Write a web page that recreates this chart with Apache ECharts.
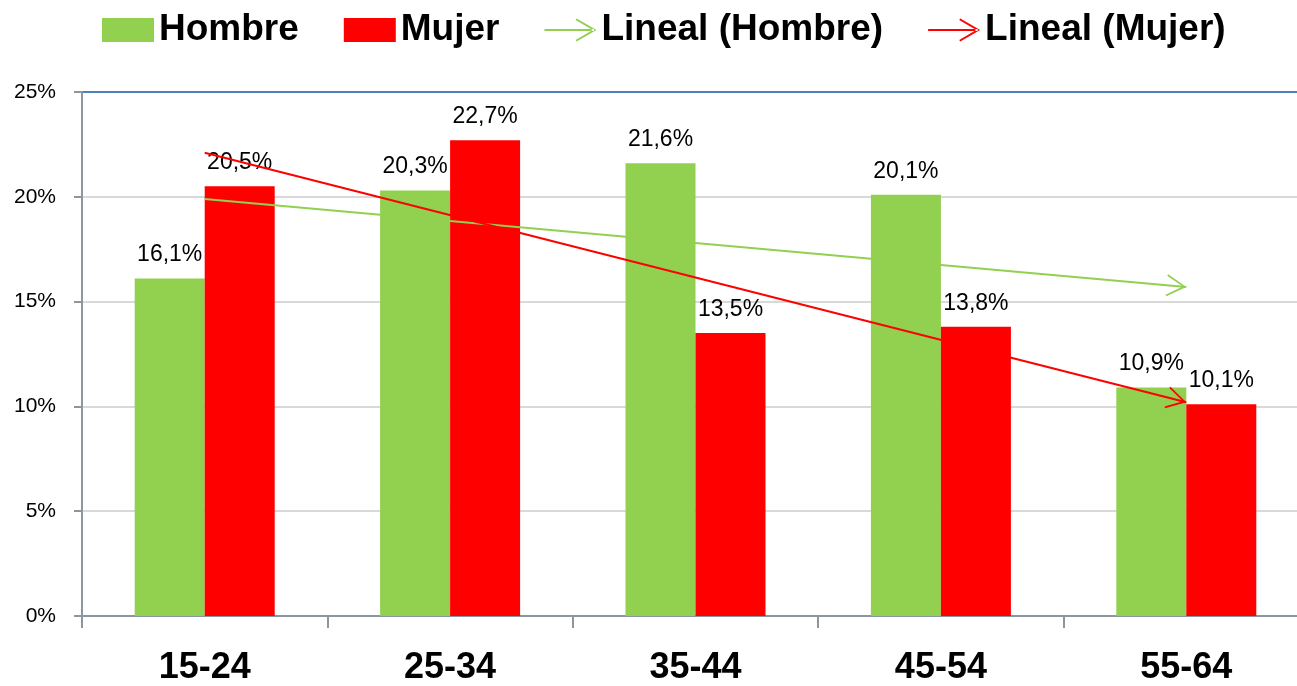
<!DOCTYPE html>
<html>
<head>
<meta charset="utf-8">
<script src="https://cdn.jsdelivr.net/npm/echarts@6/dist/echarts.min.js"></script>
<style>
  html, body { margin: 0; padding: 0; background: #fff; }
  #chart { width: 1297px; height: 686px; }
</style>
</head>
<body>
<div id="chart"></div>
<script>
// grupos de edad
const categories = ['15-24', '25-34', '35-44', '45-54', '55-64'];
// porcentajes por sexo
const hombre = [16.1, 20.3, 21.6, 20.1, 10.9];
const mujer = [20.5, 22.7, 13.5, 13.8, 10.1];
// tendencia lineal: valor en el primer y el ultimo grupo
const trendHombre = [19.9, 15.7];
const trendMujer = [22.1, 10.2];
// eje y
const yTicks = [0, 5, 10, 15, 20, 25];

const GREEN = '#92d050';
const RED = '#ff0000';
const FONT = '"Liberation Sans", Arial, sans-serif';

// flecha abierta, punta en el centro del simbolo
const arrowPath = 'path://M0,0 L10.5,19 L9.1,19.9 L0,3.5 L-9.1,19.9 L-10.5,19 Z M0,-20 L0.05,-20 L0,-19.95 Z';
// icono de leyenda: linea + flecha
const legendArrow = 'path://M0,11 L50,11 L50,13 L0,13 Z M52.5,12 L32.5,0.3 L31.4,2 L48.6,12 L31.4,22 L32.5,23.7 Z M0,0 L0.05,0 L0,0.05 Z M0,24 L0.05,24 L0,23.95 Z';

const fmt = v => v.toFixed(1).replace('.', ',') + '%';

const chart = echarts.init(document.getElementById('chart'));

function trendSeries (name, color, ends) {
    return {
        name: name,
        type: 'line',
        z: 5,
        data: [],
        itemStyle: { color: color },
        lineStyle: { color: color },
        markLine: {
            silent: true,
            animation: false,
            symbol: ['none', arrowPath],
            symbolSize: [22, 40],
            lineStyle: { color: color, width: 2, type: 'solid' },
            label: { show: false },
            emphasis: { disabled: true },
            data: [[
                { coord: [categories[0], ends[0]] },
                { coord: [categories[categories.length - 1], ends[1]] }
            ]]
        }
    };
}

const option = {
    animation: false,
    textStyle: { fontFamily: FONT },
    legend: {
        left: 102,
        top: 10,
        padding: 0,
        itemWidth: 52,
        itemHeight: 24,
        itemGap: 45,
        textStyle: { fontSize: 37, fontWeight: 'bold', color: '#000', fontFamily: FONT, lineHeight: 40 },
        data: [
            { name: 'Hombre', icon: 'rect' },
            { name: 'Mujer', icon: 'rect' },
            { name: 'Lineal (Hombre)', icon: legendArrow, itemStyle: { color: GREEN, borderWidth: 0 } },
            { name: 'Lineal (Mujer)', icon: legendArrow, itemStyle: { color: RED, borderWidth: 0 } }
        ]
    },
    grid: {
        left: 82,
        width: 1227,
        top: 92,
        bottom: 70,
        outerBoundsMode: 'none'
    },
    xAxis: {
        type: 'category',
        data: categories,
        axisLine: { lineStyle: { color: '#8c96a0', width: 2 } },
        axisTick: { show: true, interval: 0, alignWithLabel: false, length: 12, lineStyle: { color: '#8c96a0', width: 2 } },
        axisLabel: { fontSize: 36, fontWeight: 'bold', color: '#000', margin: 34, fontFamily: FONT }
    },
    yAxis: {
        type: 'value',
        min: yTicks[0],
        max: yTicks[yTicks.length - 1],
        interval: 5,
        axisLine: { show: true, lineStyle: { color: '#8c96a0', width: 2 } },
        axisTick: { show: true, length: 8, lineStyle: { color: '#8c96a0', width: 2 } },
        axisLabel: { fontSize: 21, color: '#000', margin: 26, formatter: '{value}%', fontFamily: FONT },
        splitLine: {
            lineStyle: {
                color: ['#d9d9d9', '#d9d9d9', '#d9d9d9', '#d9d9d9', '#d9d9d9', '#4f81bd'],
                width: 2
            }
        }
    },
    series: [
        {
            name: 'Hombre',
            type: 'bar',
            barWidth: 70,
            barGap: '0%',
            itemStyle: { color: GREEN },
            label: { show: true, position: 'top', distance: 12, fontSize: 23, color: '#000', formatter: p => fmt(p.value) },
            data: hombre
        },
        {
            name: 'Mujer',
            type: 'bar',
            barWidth: 70,
            barGap: '0%',
            itemStyle: { color: RED },
            label: { show: true, position: 'top', distance: 12, fontSize: 23, color: '#000', formatter: p => fmt(p.value) },
            data: mujer
        },
        trendSeries('Lineal (Hombre)', GREEN, trendHombre),
        trendSeries('Lineal (Mujer)', RED, trendMujer)
    ]
};

chart.setOption(option);

window.addEventListener('resize', function () {
    chart.resize();
});
</script>
</body>
</html>
